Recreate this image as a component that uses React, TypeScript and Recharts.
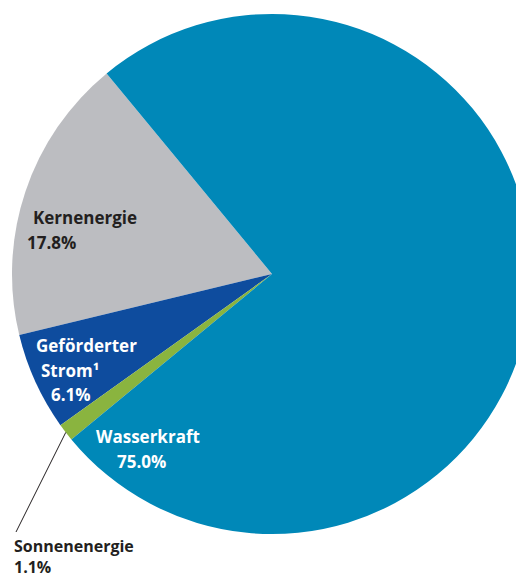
import { PieChart, Pie, Cell } from "recharts"

const sources = ["Kernenergie", "Geförderter Strom¹", "Sonnenenergie", "Wasserkraft"]
const shares = [17.8, 6.1, 1.1, 75.0]
const colors = ["#BCBDC1", "#0E4C9E", "#8AB43F", "#0088B8"]

// label text lines per slice (name split over lines + share)
const labelLines = [
  ["Kernenergie", "17.8%"],
  ["Geförderter", "Strom¹", "6.1%"],
  ["Sonnenenergie", "1.1%"],
  ["Wasserkraft", "75.0%"],
]

// where each label sits, relative to the pie centre
const labelPlace = [
  { xs: [-239, -245], y: -50, gap: 24.5, size: 17, fill: "#231F20" },
  { xs: [-236, -231, -221], y: 78, gap: 24.5, size: 17, fill: "#FFFFFF" },
  { xs: [-258, -258], y: 278, gap: 20.5, size: 16, fill: "#231F20" },
  { xs: [-176, -155], y: 169, gap: 24.5, size: 17, fill: "#FFFFFF" },
]

const data = sources.map((name, i) => ({ name, value: shares[i] }))

const RADIAN = Math.PI / 180

function renderLabel(props: any) {
  const { cx, cy, index, midAngle, outerRadius } = props
  const place = labelPlace[index]
  const lines = labelLines[index]
  let leader = null
  if (index === 2) {
    const x1 = cx + outerRadius * Math.cos(-midAngle * RADIAN)
    const y1 = cy + outerRadius * Math.sin(-midAngle * RADIAN)
    leader = <line x1={x1} y1={y1} x2={cx - 256} y2={cy + 258} stroke="#231F20" strokeWidth={1} />
  }
  return (
    <g>
      {leader}
      {lines.map((t, j) => (
        <text
          key={j}
          x={cx + place.xs[j]}
          y={cy + place.y + j * place.gap}
          fill={place.fill}
          fontFamily="'Open Sans', sans-serif"
          fontWeight={700}
          fontSize={place.size}
          textAnchor="start"
        >
          {t}
        </text>
      ))}
    </g>
  )
}

export default function App() {
  return (
    <PieChart width={516} height={571} margin={{ top: 0, right: 0, bottom: 0, left: 0 }}>
      <Pie
        data={data}
        dataKey="value"
        nameKey="name"
        cx={264}
        cy={266}
        innerRadius={0}
        outerRadius={260}
        startAngle={129.5}
        endAngle={489.5}
        stroke="none"
        label={renderLabel}
        labelLine={false}
        isAnimationActive={false}
      >
        {data.map((d, i) => (
          <Cell key={d.name} fill={colors[i]} />
        ))}
      </Pie>
    </PieChart>
  )
}
